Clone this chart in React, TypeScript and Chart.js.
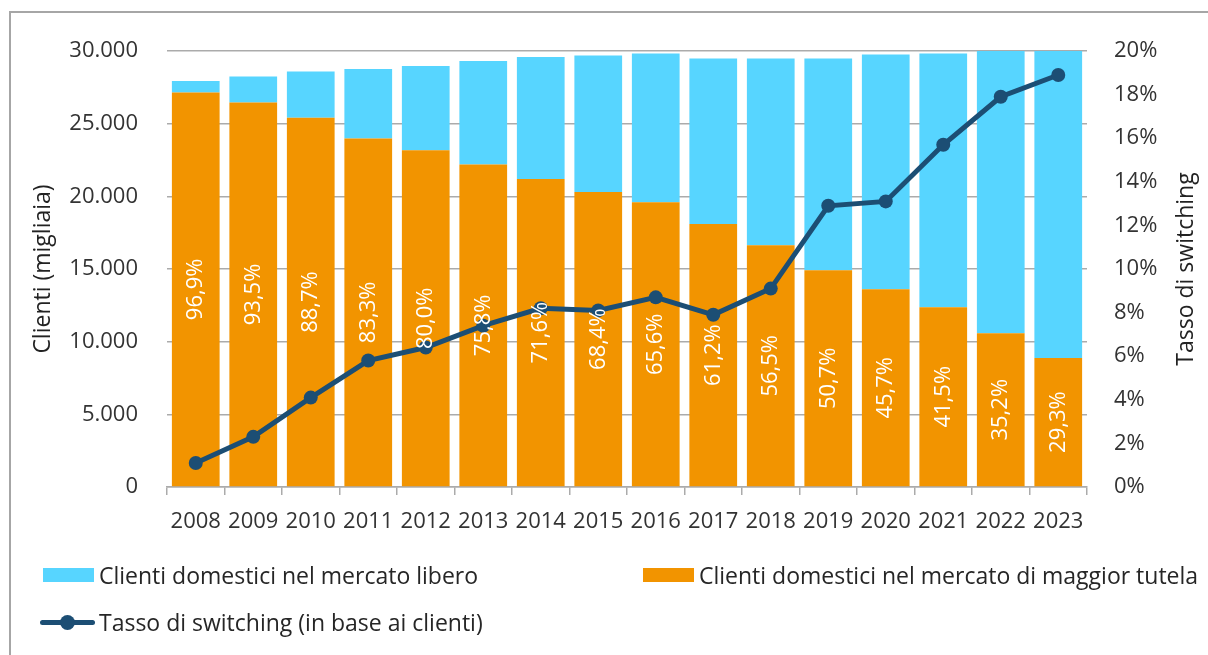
import React, { useEffect, useRef } from "react";
import { Chart, registerables } from "chart.js";

Chart.register(...registerables);

const years = ["2008","2009","2010","2011","2012","2013","2014","2015","2016","2017","2018","2019","2020","2021","2022","2023"];
const tutela = [27150, 26450, 25400, 23980, 23170, 22190, 21200, 20300, 19590, 18100, 16630, 14910, 13600, 12370, 10580, 8880];
const libero = [790, 1790, 3190, 4790, 5800, 7130, 8390, 9390, 10240, 11380, 12850, 14570, 16160, 17460, 19470, 21420];
const switching = [1.1, 2.3, 4.1, 5.8, 6.4, 7.4, 8.2, 8.1, 8.7, 7.9, 9.1, 12.9, 13.1, 15.7, 17.9, 18.9];
const tutelaShare = ["96,9%","93,5%","88,7%","83,3%","80,0%","75,8%","71,6%","68,4%","65,6%","61,2%","56,5%","50,7%","45,7%","41,5%","35,2%","29,3%"];

const leftTitle = "Clienti (migliaia)";
const rightTitle = "Tasso di switching";
const legendLibero = "Clienti domestici nel mercato libero";
const legendTutela = "Clienti domestici nel mercato di maggior tutela";
const legendSwitch = "Tasso di switching (in base ai clienti)";

const FONT = "'Open Sans', 'Noto Sans', sans-serif";
const CYAN = "#57d5ff";
const ORANGE = "#f29400";
const NAVY = "#1c4e74";
const GRID = "#ababab";
const TEXT = "#333333";

function fmtThousands(v: number): string {
  return String(Math.round(v)).replace(/\B(?=(\d{3})+(?!\d))/g, ".");
}

const overlayPlugin = {
  id: "overlay",
  afterDatasetsDraw(chart: any) {
    const ctx = chart.ctx;
    const meta = chart.getDatasetMeta(1);
    ctx.save();
    ctx.fillStyle = "#ffffff";
    ctx.font = `22px ${FONT}`;
    ctx.textAlign = "center";
    ctx.textBaseline = "middle";
    meta.data.forEach((bar: any, i: number) => {
      const { x, y, base } = bar.getProps(["x", "y", "base"], true);
      const cy = (y + base) / 2;
      ctx.save();
      ctx.translate(x, cy);
      ctx.rotate(-Math.PI / 2);
      ctx.fillText(tutelaShare[i], 0, 0);
      ctx.restore();
    });
    ctx.restore();
  },
  afterDraw(chart: any) {
    const ctx = chart.ctx;
    const area = chart.chartArea;
    const cy = (area.top + area.bottom) / 2;
    ctx.save();
    ctx.fillStyle = "#222222";
    ctx.font = `23px ${FONT}`;
    ctx.textAlign = "center";
    ctx.textBaseline = "middle";
    ctx.save();
    ctx.translate(43, cy);
    ctx.rotate(-Math.PI / 2);
    ctx.fillText(leftTitle, 0, 0);
    ctx.restore();
    ctx.save();
    ctx.translate(1186, cy);
    ctx.rotate(-Math.PI / 2);
    ctx.fillText(rightTitle, 0, 0);
    ctx.restore();
    ctx.restore();
  },
};

export default function App() {
  const canvasRef = useRef<HTMLCanvasElement | null>(null);

  useEffect(() => {
    if (!canvasRef.current) return;
    const chart = new Chart(canvasRef.current, {
      type: "bar",
      data: {
        labels: years,
        datasets: [
          {
            type: "line",
            label: legendSwitch,
            data: switching,
            yAxisID: "y1",
            borderColor: NAVY,
            backgroundColor: NAVY,
            borderWidth: 5,
            pointRadius: 7,
            pointBackgroundColor: NAVY,
            pointBorderColor: NAVY,
            pointBorderWidth: 0,
            tension: 0,
            order: 0,
          } as any,
          {
            label: legendTutela,
            data: tutela,
            backgroundColor: ORANGE,
            yAxisID: "y",
            stack: "s",
            order: 1,
            categoryPercentage: 1,
            barPercentage: 0.83,
          },
          {
            label: legendLibero,
            data: libero,
            backgroundColor: CYAN,
            yAxisID: "y",
            stack: "s",
            order: 2,
            categoryPercentage: 1,
            barPercentage: 0.83,
          },
        ],
      },
      options: {
        animation: false,
        responsive: false,
        maintainAspectRatio: false,
        layout: { padding: { top: 51, left: 0, right: 0, bottom: 0 } },
        plugins: {
          legend: { display: false },
          tooltip: { enabled: false },
        },
        scales: {
          x: {
            stacked: true,
            offset: true,
            grid: {
              display: true,
              drawOnChartArea: false,
              drawTicks: true,
              tickLength: 8,
              color: GRID,
              lineWidth: 1.5,
              offset: true,
            },
            border: { display: true, color: GRID, width: 1.5 },
            ticks: {
              color: TEXT,
              font: { family: FONT, size: 22 },
              padding: 14,
              maxRotation: 0,
              autoSkip: false,
            },
            afterFit: (s: any) => {
              s.height = 168;
            },
          },
          y: {
            type: "linear",
            position: "left",
            stacked: true,
            min: 0,
            max: 30000,
            ticks: {
              stepSize: 5000,
              color: TEXT,
              font: { family: FONT, size: 22 },
              padding: 29,
              callback: (v: any) => fmtThousands(Number(v)),
            },
            grid: { color: GRID, lineWidth: 1.5, drawTicks: false },
            border: { display: false },
            afterFit: (s: any) => {
              s.width = 167;
            },
          },
          y1: {
            type: "linear",
            position: "right",
            stacked: false,
            min: 0,
            max: 20,
            ticks: {
              stepSize: 2,
              color: TEXT,
              font: { family: FONT, size: 22 },
              padding: 27,
              callback: (v: any) => `${v}%`,
            },
            grid: { display: false, drawTicks: false },
            border: { display: false },
            afterFit: (s: any) => {
              s.width = 121;
            },
          },
        },
      },
      plugins: [overlayPlugin],
    } as any);
    return () => chart.destroy();
  }, []);

  const legendText: React.CSSProperties = {
    position: "absolute",
    fontFamily: FONT,
    fontSize: 23,
    color: "#262626",
    whiteSpace: "nowrap",
    lineHeight: "30px",
  };

  return (
    <div style={{ position: "fixed", left: 0, top: 0, width: 1208, height: 655, overflow: "hidden", background: "#fff" }}>
      <div
        style={{
          position: "absolute",
          left: 9,
          top: 11,
          width: 1400,
          height: 800,
          borderTop: "2px solid #a6a6a6",
          borderLeft: "2px solid #a6a6a6",
        }}
      />
      <canvas ref={canvasRef} width={1208} height={655} style={{ position: "absolute", left: 0, top: 0, width: 1208, height: 655 }} />
      <div style={{ position: "absolute", left: 43, top: 568, width: 51, height: 14, background: CYAN }} />
      <div style={{ ...legendText, left: 99, top: 560 }}>{legendLibero}</div>
      <div style={{ position: "absolute", left: 643, top: 568, width: 51, height: 14, background: ORANGE }} />
      <div style={{ ...legendText, left: 699, top: 560 }}>{legendTutela}</div>
      <div style={{ position: "absolute", left: 40, top: 620, width: 55, height: 5, background: NAVY, borderRadius: 3 }} />
      <div style={{ position: "absolute", left: 60, top: 615, width: 15, height: 15, background: NAVY, borderRadius: "50%" }} />
      <div style={{ ...legendText, left: 99, top: 607 }}>{legendSwitch}</div>
    </div>
  );
}
